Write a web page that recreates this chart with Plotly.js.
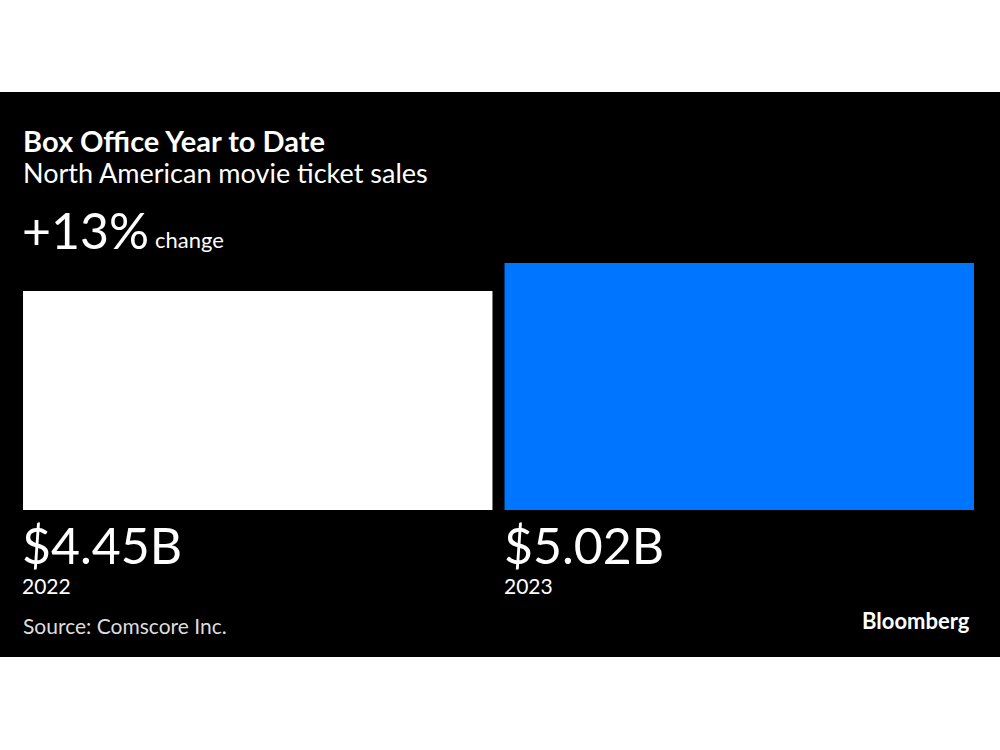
<!DOCTYPE html>
<html>
<head>
<meta charset="utf-8">
<script src="https://cdn.plot.ly/plotly-3.0.1.min.js"></script>
<style>
  html, body { margin: 0; padding: 0; background: #ffffff; width: 1000px; height: 750px; overflow: hidden; }
  #chart { position: absolute; left: 0; top: 92px; width: 1000px; height: 565px; }
</style>
</head>
<body>
<div id="chart"></div>
<script>
// ---- data ----
const years = ["2022", "2023"];
const salesBillions = [4.45, 5.02];
const barColors = ["#ffffff", "#0075ff"];
const titleText = "Box Office Year to Date";
const subtitleText = "North American movie ticket sales";
const changeText = "change";
const sourceText = "Source: Comscore Inc.";
const brandText = "Bloomberg";

// ---- layout helpers ----
const H = 565, plotTop = 171, plotBottom = 418, plotLeft = 17, plotRight = 980;
const py = (pix) => (plotBottom - pix) / (plotBottom - plotTop);
const px = (pix) => (pix - plotLeft) / (plotRight - plotLeft);
const bargap = 0.025;
const FONT = "Lato, 'Noto Sans', sans-serif";

const pct = Math.round((salesBillions[1] / salesBillions[0] - 1) * 100);
const pctText = (pct >= 0 ? "+" : "") + pct + "%";

const trace = {
  type: "bar",
  x: years.map((_, i) => i),
  y: salesBillions,
  marker: { color: barColors, line: { width: 0 } },
  hoverinfo: "skip",
  showlegend: false
};

const base = { showarrow: false, xanchor: "left", yanchor: "middle", borderpad: 0, xref: "paper", yref: "paper", align: "left" };
const annotations = [
  { text: "<b>" + titleText + "</b>", x: px(21.5), y: py(48.5),
    font: { family: FONT, size: 29, color: "#ffffff" } },
  { text: subtitleText, x: px(21.5), y: py(81),
    font: { family: FONT, size: 27, color: "#ffffff" } },
  { text: pctText, x: px(21), y: py(137.5),
    font: { family: FONT, size: 50, color: "#ffffff" } },
  { text: changeText, x: px(154), y: py(148),
    font: { family: FONT, size: 22, color: "#ffffff" } },
  { text: sourceText, x: px(21.5), y: py(533),
    font: { family: FONT, size: 21, color: "#dddddd" } },
  { text: "<b>" + brandText + "</b>", x: px(971), y: py(528.6), xanchor: "right",
    font: { family: FONT, size: 22, color: "#ffffff" } }
].map(a => Object.assign({}, base, a));

years.forEach((yr, i) => {
  const left = i - (1 - bargap) / 2;
  annotations.push(Object.assign({}, base, {
    text: "<span style='font-size:50px'>$" + salesBillions[i].toFixed(2) + "B</span><br><span style='font-size:21px'>" + yr + "</span>",
    xref: "x", x: left, xshift: -2, y: py(421.6), yanchor: "top",
    font: { family: FONT, size: 23, color: "#ffffff" }
  }));
});

const layout = {
  width: 1000, height: H,
  paper_bgcolor: "#000000", plot_bgcolor: "#000000",
  margin: { l: plotLeft, r: 1000 - plotRight, t: plotTop, b: H - plotBottom, pad: 0 },
  bargap: bargap,
  xaxis: { range: [-0.5, 1.5], visible: false, fixedrange: true },
  yaxis: { range: [0, salesBillions[1]], visible: false, fixedrange: true },
  annotations: annotations,
  showlegend: false
};

Plotly.newPlot("chart", [trace], layout, { displayModeBar: false, staticPlot: true });
</script>
</body>
</html>
